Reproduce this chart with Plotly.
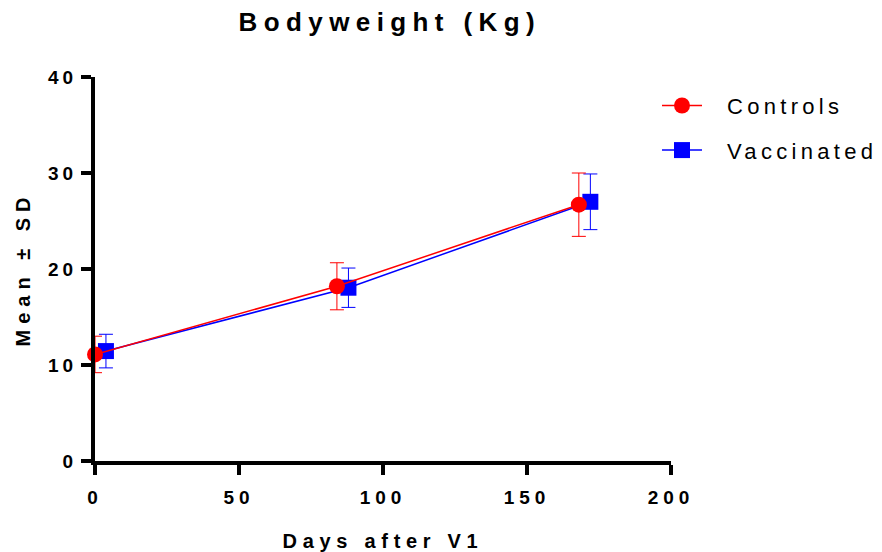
import plotly.graph_objects as go

days_controls = [0, 84, 168]
mean_controls = [11.1, 18.2, 26.7]
sd_controls = [1.9, 2.45, 3.3]

days_vacc = [3.8, 88, 172]
mean_vacc = [11.45, 18.05, 27.0]
sd_vacc = [1.75, 2.05, 2.9]

x_ticks = [0, 50, 100, 150, 200]
y_ticks = [0, 10, 20, 30, 40]

FONT = "Arial, 'Liberation Sans', sans-serif"

fig = go.Figure()
fig.add_trace(go.Scatter(
    x=days_vacc, y=mean_vacc, name="Vaccinated", mode="lines+markers",
    line=dict(color="#0000ff", width=1.5),
    marker=dict(symbol="square", size=16, color="#0000ff"),
    error_y=dict(type="data", array=sd_vacc, color="#0000ff", thickness=1, width=7),
    cliponaxis=False, legendrank=2, legendgroup="v",
))
fig.add_trace(go.Scatter(
    x=days_controls, y=mean_controls, name="Controls", mode="lines+markers",
    line=dict(color="#ff0000", width=1.5),
    marker=dict(symbol="circle", size=16, color="#ff0000"),
    error_y=dict(type="data", array=sd_controls, color="#ff0000", thickness=1, width=7),
    cliponaxis=False, legendrank=1, legendgroup="c",
))

fig.update_layout(
    width=882, height=552,
    margin=dict(l=95, r=211, t=77, b=91),
    paper_bgcolor="white", plot_bgcolor="white",
    font=dict(family=FONT, color="black"),
    title=dict(text="<b>Bodyweight (Kg)</b>", x=0.442, xanchor="center", y=0.96, yanchor="middle",
               font=dict(size=26, family=FONT, color="black")),
    showlegend=True,
    legend=dict(x=0.9757, xanchor="left", y=0.98, yanchor="top", traceorder="grouped",
                font=dict(size=22, family=FONT, color="black"),
                itemwidth=40, tracegroupgap=13, bgcolor="rgba(0,0,0,0)"),
    xaxis=dict(range=[0, 200], tickvals=x_ticks, ticks="outside", ticklen=10, tickwidth=4,
               tickcolor="black", showline=True, linewidth=4, linecolor="black",
               showgrid=False, zeroline=False, ticklabelstandoff=6, automargin=False,
               tickfont=dict(size=19, family=FONT, color="black", weight="bold"),
               title=dict(text="<b>Days after V1</b>", font=dict(size=20, family=FONT), standoff=30)),
    yaxis=dict(range=[0, 40], tickvals=y_ticks, ticks="outside", ticklen=10, tickwidth=4,
               tickcolor="black", showline=True, linewidth=4, linecolor="black",
               showgrid=False, zeroline=False, automargin=False,
               tickfont=dict(size=19, family=FONT, color="black", weight="bold"),
               title=dict(text="<b>Mean ± SD</b>", font=dict(size=20, family=FONT), standoff=21)),
)

post = """
var gd = document.getElementById('{plot_id}');
function sp(sel, v){ gd.querySelectorAll(sel).forEach(function(t){ t.style.letterSpacing = v; }); }
function fix(){
  sp('.gtitle', '6.4px');
  sp('.xtitle', '5.7px');
  sp('.ytitle', '6px');
  sp('.legendtext', '4.3px');
  sp('.xtick text', '5px');
  sp('.ytick text', '4px');
  gd.querySelectorAll('.legend, .legend *').forEach(function(e){ e.removeAttribute('clip-path'); });
  gd.querySelectorAll('.legendtext').forEach(function(t){
    if (!t.getAttribute('data-shifted')) {
      t.setAttribute('x', parseFloat(t.getAttribute('x') || 0) + 20);
      t.setAttribute('data-shifted', '1');
    }
  });
}
fix();
gd.on('plotly_afterplot', fix);
"""

fig.write_html("out.html", post_script=post)
